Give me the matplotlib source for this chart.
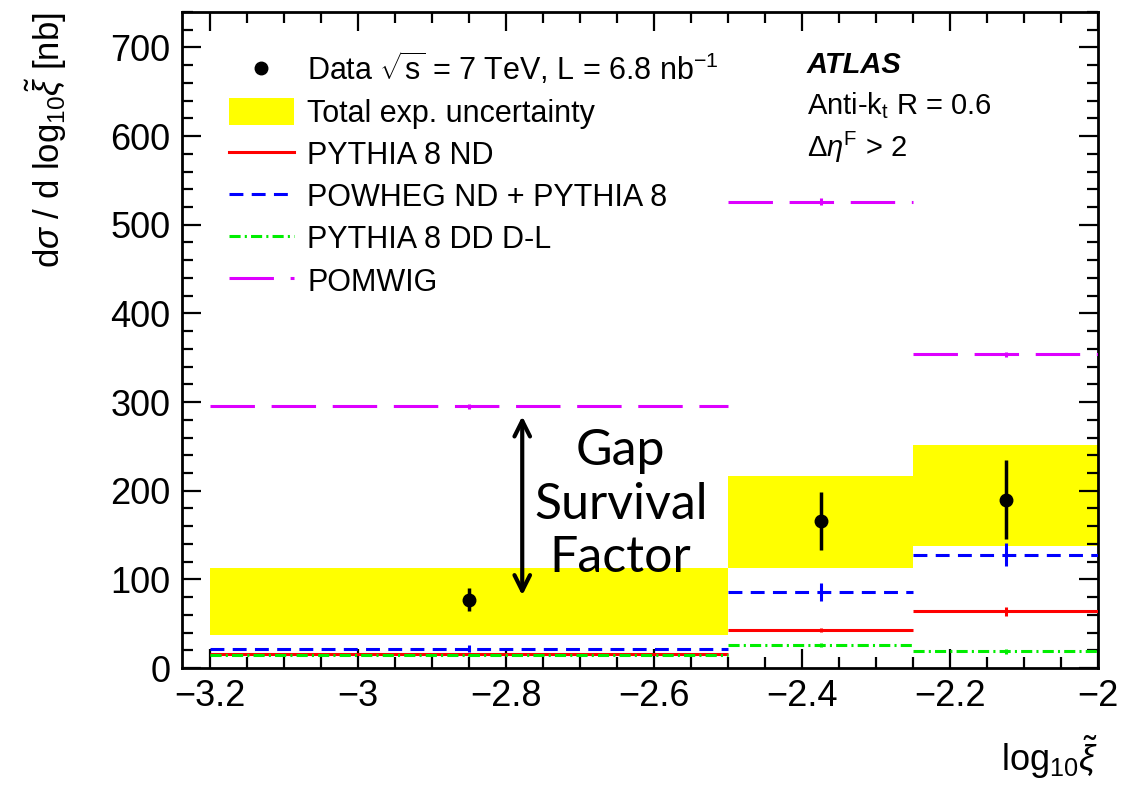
import matplotlib
matplotlib.use('Agg')
import matplotlib.pyplot as plt
from matplotlib.lines import Line2D
from matplotlib.patches import Patch
from matplotlib.ticker import MultipleLocator, FixedLocator, FixedFormatter

plt.rcParams['font.family'] = ['Liberation Sans', 'DejaVu Sans']
plt.rcParams['mathtext.fontset'] = 'custom'
plt.rcParams['mathtext.rm'] = 'Liberation Sans'
plt.rcParams['mathtext.it'] = 'Liberation Sans:italic'
plt.rcParams['lines.scale_dashes'] = False

# bins in log10(xi)
bin_lo = [-3.2, -2.5, -2.25]
bin_hi = [-2.5, -2.25, -2.0]
bin_mid = [-2.85, -2.375, -2.125]

# data
data_y = [77, 166, 190]
data_err = [13, 33, 45]
unc_lo = [37, 113, 138]
unc_hi = [113, 217, 251]

# predictions
pythia_nd = [16, 43, 64]
pythia_nd_err = [1, 2, 5]
powheg = [22, 86, 128]
powheg_err = [4, 10, 13]
pythia_dd = [15, 26, 19]
pythia_dd_err = [1, 2, 3]
pomwig = [295, 526, 354]
pomwig_err = [3, 4, 3]

fig = plt.figure(figsize=(11.29, 7.95), dpi=100)
ax = fig.add_axes([0.161, 0.1597, 0.8116, 0.8253])

# uncertainty band
widths = [h - l for l, h in zip(bin_lo, bin_hi)]
heights = [h - l for l, h in zip(unc_lo, unc_hi)]
ax.bar(bin_lo, heights, width=widths, bottom=unc_lo, align='edge',
       color='#ffff00', linewidth=0, zorder=1)

styles = [
    (pythia_nd, pythia_nd_err, '#ff0000', '-'),
    (powheg, powheg_err, '#0000ff', (0, (10, 6))),
    (pythia_dd, pythia_dd_err, '#00ee00', (0, (8, 3, 1.5, 3))),
    (pomwig, pomwig_err, '#dd00ff', (0, (32, 12))),
]
for vals, errs, col, ls in styles:
    ax.hlines(vals, bin_lo, bin_hi, colors=col, linestyles=ls, lw=2.2, zorder=3)
    ax.vlines(bin_mid, [v - e for v, e in zip(vals, errs)],
              [v + e for v, e in zip(vals, errs)], colors=col, lw=2.2, zorder=3)

ax.errorbar(bin_mid, data_y, yerr=data_err, fmt='o', color='black',
            ms=9, elinewidth=2.5, capsize=0, zorder=5)

# legend
handles = [
    Line2D([], [], marker='o', ls='none', color='black', ms=9),
    Patch(facecolor='#ffff00', edgecolor='none'),
    Line2D([], [], color='#ff0000', lw=2.2),
    Line2D([], [], color='#0000ff', lw=2.2, ls=(0, (10, 6))),
    Line2D([], [], color='#00ee00', lw=2.2, ls=(0, (8, 3, 1.5, 3))),
    Line2D([], [], color='#dd00ff', lw=2.2, ls=(0, (32, 12))),
]
labels = [
    r'Data $\sqrt{\mathrm{s}}$ = 7 TeV, L = 6.8 nb$^{-1}$',
    'Total exp. uncertainty',
    'PYTHIA 8 ND',
    'POWHEG ND + PYTHIA 8',
    'PYTHIA 8 DD D-L',
    'POMWIG',
]
ax.legend(handles, labels, loc='upper left', bbox_to_anchor=(0.052, 0.942),
          frameon=False, fontsize=22, borderpad=0, borderaxespad=0,
          handlelength=2.1, handleheight=1.0, handletextpad=0.45,
          labelspacing=0.36)

ax.text(0.682, 0.919, 'ATLAS', transform=ax.transAxes, fontsize=21,
        fontweight='bold', style='italic', va='center')
ax.text(0.682, 0.857, r'Anti-k$_{\mathrm{t}}$ R = 0.6', transform=ax.transAxes,
        fontsize=21, va='center')
ax.text(0.682, 0.793, r'$\Delta\eta^{\mathrm{F}}$ > 2', transform=ax.transAxes,
        fontsize=21, va='center')

# gap survival annotation
ax.annotate('', xy=(-2.778, 284), xytext=(-2.778, 82),
            arrowprops=dict(arrowstyle='<->', lw=3, color='black',
                            mutation_scale=28, shrinkA=0, shrinkB=0))
ax.text(-2.645, 184, 'Gap\nSurvival\nFactor', fontsize=36, family='Lato',
        ha='center', va='center', linespacing=1.2)

ax.set_xlim(-3.238, -2.0)
ax.set_ylim(0, 740)
xt = [-3.2, -3.0, -2.8, -2.6, -2.4, -2.2, -2.0]
ax.xaxis.set_major_locator(FixedLocator(xt))
ax.xaxis.set_major_formatter(FixedFormatter(['\u22123.2', '\u22123', '\u22122.8', '\u22122.6',
                                             '\u22122.4', '\u22122.2', '\u22122']))
ax.xaxis.set_minor_locator(MultipleLocator(0.05))
ax.yaxis.set_major_locator(MultipleLocator(100))
ax.yaxis.set_minor_locator(MultipleLocator(20))
ax.tick_params(which='both', direction='in', top=True, right=True, labelsize=26, width=1.6)
ax.tick_params(which='major', length=14, pad=8)
ax.tick_params(which='minor', length=8)
for s in ax.spines.values():
    s.set_linewidth(2)

ax.set_xlabel(r'log$_{10}\tilde{\xi}$', fontsize=26, loc='right', labelpad=14)
ax.set_ylabel(r'd$\sigma$ / d log$_{10}\tilde{\xi}$ [nb]', fontsize=25, loc='top', labelpad=30)

fig.savefig('out.png', dpi=100)
